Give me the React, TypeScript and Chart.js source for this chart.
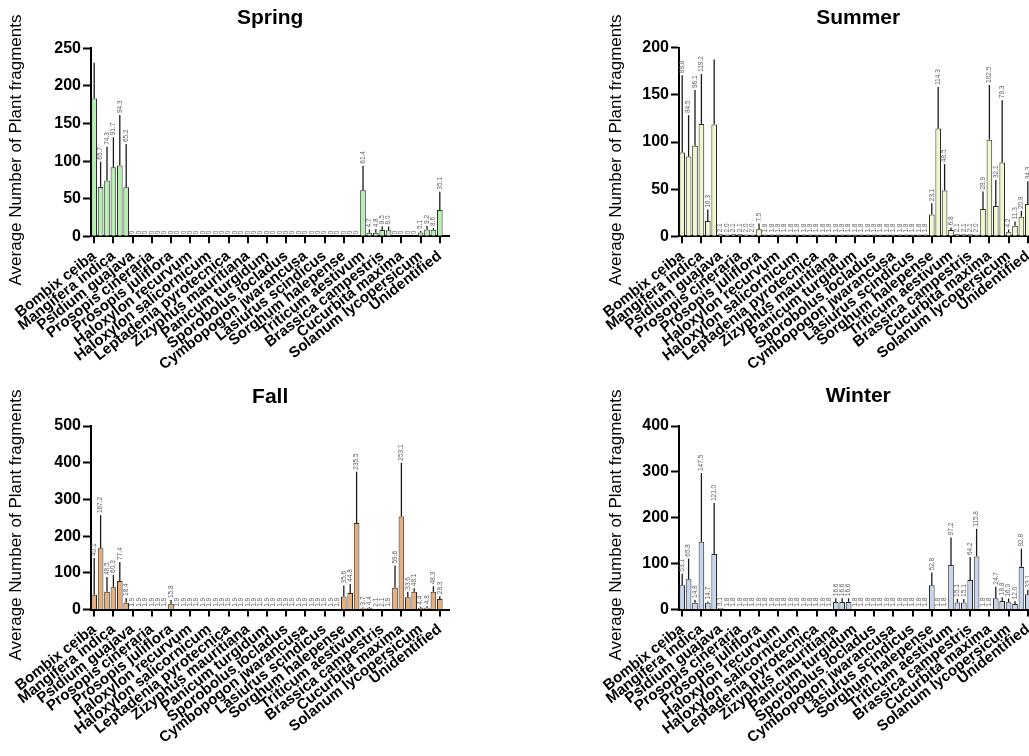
import React, { useEffect, useRef } from "react";
import { Chart, registerables } from "chart.js";
Chart.register(...registerables);

const FONT = '"Liberation Sans", Arial, Helvetica, sans-serif';

const species = [
  "Bombix ceiba", "Mangifera indica", "Psidium guajava", "Prosopis cineraria",
  "Prosopis juliflora", "Haloxylon recurvum", "Haloxylon salicornicum",
  "Leptadenia pyrotecnica", "Zizyphus mauritiana", "Panicum turgidum",
  "Sporobolus iocladus", "Cymbopogon jwarancusa", "Lasiurus scindicus",
  "Sorghum halepense", "Triticum aestivum", "Brassica campestris",
  "Cucurbita maxima", "Solanum lycopersicum", "Unidentified",
];

const yAxisTitle = "Average Number of Plant fragments";

// 56 bar slots: every third slot carries a species name
const slotLabels: string[] = [];
for (let i = 0; i < 56; i++) slotLabels.push(i % 3 === 0 && i / 3 < species.length ? species[i / 3] : "");

const springValues = [
  183.2, 65.7, 74.3, 91.7, 94.3, 65.2,
  0, 0, 0, 0, 0, 0, 0, 0, 0, 0, 0, 0,
  0, 0, 0, 0, 0, 0, 0, 0, 0, 0, 0, 0,
  0, 0, 0, 0, 0, 0, 0, 0, 0, 0, 0, 0,
  61.4, 4.7, 4.8, 8.5, 8.0, 0, 0, 0, 0, 5.1, 9.2, 8.6, 35.1,
];
const springErrors = [
  47.5, 33.5, 44.7, 40, 67, 57.5,
  0, 0, 0, 0, 0, 0, 0, 0, 0, 0, 0, 0,
  0, 0, 0, 0, 0, 0, 0, 0, 0, 0, 0, 0,
  0, 0, 0, 0, 0, 0, 0, 0, 0, 0, 0, 0,
  32.5, 4.5, 4.5, 5, 5, 0, 0, 0, 0, 2, 4.5, 2.5, 24.2,
];

const summerValues = [
  88.8, 84.5, 96.1, 119.2, 16.3, 118.5,
  2.1, 2.0, 2.1, 2.1, 2.0, 2.0, 7.5, 1.8, 1.8,
  1.8, 1.8, 1.8, 1.8, 1.8, 1.8, 1.8, 1.8, 1.8, 1.8, 1.8, 1.8,
  1.8, 1.8, 1.8, 1.8, 1.8, 1.8, 1.8, 1.8, 1.8, 1.8, 1.8, 1.8,
  23.1, 114.3, 48.5, 6.8, 2.1, 2.1, 2.1, 2.0, 28.9,
  102.5, 32.1, 78.3, 4.2, 11.3, 20.8, 34.3,
];
const summerErrors = [
  82, 44, 59, 53, 12, 69,
  0, 0, 0, 0, 0, 0, 6, 0, 0,
  0, 0, 0, 0, 0, 0, 0, 0, 0, 0, 0, 0,
  0, 0, 0, 0, 0, 0, 0, 0, 0, 0, 0, 0,
  12, 44, 28, 2.5, 0, 0, 0, 0, 18.5,
  58, 27.5, 66, 3, 4.5, 6, 24,
];

const fallValues = [
  40.1, 167.2, 48.5, 60.3, 77.4, 18.4,
  1.9, 1.9, 1.9, 1.9, 1.9, 1.9, 15.8, 1.9, 1.9,
  1.9, 1.9, 1.9, 1.9, 1.9, 1.9, 1.9, 1.9, 1.9, 1.9, 1.9, 1.9,
  1.9, 1.9, 1.9, 1.9, 1.9, 1.9, 1.9, 1.9, 1.9, 1.9, 1.9, 1.9,
  35.6, 44.8, 235.5, 3.7, 4.4, 2.1, 2.1, 1.9, 59.6,
  253.1, 33.6, 48.1, 4.4, 4.8, 48.3, 28.3,
];
const fallErrors = [
  100, 90, 40, 34, 52, 13,
  0, 0, 0, 0, 0, 0, 10, 0, 0,
  0, 0, 0, 0, 0, 0, 0, 0, 0, 0, 0, 0,
  0, 0, 0, 0, 0, 0, 0, 0, 0, 0, 0, 0,
  30, 25, 140, 2, 2, 0, 0, 0, 60,
  147, 15, 10, 3, 4, 15, 8,
];

const winterValues = [
  53.1, 65.8, 14.8, 147.5, 14.7, 121.0,
  3.1, 1.8, 1.8, 1.8, 1.8, 1.8, 1.8, 1.8, 1.8,
  1.8, 1.8, 1.8, 1.8, 1.8, 1.8, 1.8, 1.8, 1.8, 16.6, 16.6, 16.6,
  1.8, 1.8, 1.8, 1.8, 1.8, 1.8, 1.8, 1.8, 1.8, 1.8, 1.8, 1.8,
  52.8, 1.8, 1.8, 97.2, 15.1, 15.1, 64.2, 115.8, 1.8,
  1.8, 24.7, 18.8, 16.0, 12.0, 92.8, 33.1,
];
const winterErrors = [
  25, 45, 6, 150, 3, 111,
  0, 0, 0, 0, 0, 0, 0, 0, 0,
  0, 0, 0, 0, 0, 0, 0, 0, 0, 8, 8, 8,
  0, 0, 0, 0, 0, 0, 0, 0, 0, 0, 0, 0,
  28, 0, 0, 60, 8, 8, 50, 60, 0,
  0, 25, 8, 8, 6, 40, 10,
];

const errorBarPlugin = {
  id: "errbars",
  afterDatasetsDraw(chart: any) {
    const { ctx, chartArea } = chart;
    const ds = chart.data.datasets[0];
    const errs: number[] = ds.errors;
    const meta = chart.getDatasetMeta(0);
    const y = chart.scales.y;
    ctx.save();
    ctx.font = `6.5px ${FONT}`;
    meta.data.forEach((bar: any, i: number) => {
      const v = ds.data[i];
      if (v == null) return;
      const e = errs[i] || 0;
      const x = bar.x;
      const yTop = y.getPixelForValue(v + e);
      if (e > 0) {
        ctx.beginPath();
        ctx.moveTo(x, bar.y);
        ctx.lineTo(x, yTop);
        ctx.strokeStyle = "#1a1a1a";
        ctx.lineWidth = 1.3;
        ctx.stroke();
      }
      const text = v === 0 ? "0" : v.toFixed(1);
      const w = ctx.measureText(text).width;
      const start = Math.min(yTop, bar.y) - 2;
      if (start - w < chartArea.top) return;
      ctx.save();
      ctx.translate(x, start);
      ctx.rotate(-Math.PI / 2);
      ctx.fillStyle = "#5e5e5e";
      ctx.textAlign = "left";
      ctx.textBaseline = "middle";
      ctx.fillText(text, 0, 0);
      ctx.restore();
    });
    ctx.restore();
  },
};

const titlePlugin = {
  id: "paneltitle",
  afterDraw(chart: any, _args: any, opts: any) {
    const { ctx, chartArea } = chart;
    ctx.save();
    ctx.font = `bold 21px ${FONT}`;
    ctx.fillStyle = "#000";
    ctx.textAlign = "center";
    ctx.textBaseline = "middle";
    ctx.fillText(opts.text, (chartArea.left + chartArea.right) / 2, opts.y);
    ctx.font = `17px ${FONT}`;
    ctx.translate(opts.yTitleX, opts.yTitleY);
    ctx.rotate(-Math.PI / 2);
    ctx.fillText(yAxisTitle, 0, 0);
    ctx.restore();
  },
};

type PanelProps = {
  title: string; titleY: number; yTitleX: number; yTitleY: number;
  left: number; top: number; width: number; height: number;
  padLeft: number; yWidth: number; chartTop: number; chartBottom: number; right: number;
  max: number; step: number;
  values: number[]; errors: number[]; color: string; border: string;
};

function Panel(p: PanelProps) {
  const ref = useRef<HTMLCanvasElement>(null);
  useEffect(() => {
    const chart = new Chart(ref.current as HTMLCanvasElement, {
      type: "bar",
      data: {
        labels: slotLabels,
        datasets: [
          {
            data: [...p.values, null],
            errors: p.errors,
            backgroundColor: p.color,
            borderColor: p.border,
            borderWidth: 1,
            barPercentage: 0.88,
            categoryPercentage: 1,
          } as any,
        ],
      },
      options: {
        animation: false,
        responsive: false,
        devicePixelRatio: 1,
        layout: { padding: { left: p.padLeft, top: p.chartTop, right: p.width - p.right, bottom: 0 } },
        plugins: {
          legend: { display: false },
          tooltip: { enabled: false },
          paneltitle: { text: p.title, y: p.titleY, yTitleX: p.yTitleX, yTitleY: p.yTitleY },
        } as any,
        scales: {
          x: {
            offset: true,
            afterFit: (s: any) => { s.height = p.height - p.chartBottom; },
            grid: {
              display: true,
              drawOnChartArea: false,
              drawTicks: true,
              offset: false,
              tickLength: 7,
              tickWidth: 2,
              lineWidth: 2,
              color: (c: any) => (slotLabels[c.index] ? "#000" : "rgba(0,0,0,0)"),
              tickColor: (c: any) => (slotLabels[c.index] ? "#000" : "rgba(0,0,0,0)"),
            },
            border: { display: true, color: "#000", width: 2 },
            ticks: {
              autoSkip: false,
              minRotation: 38,
              maxRotation: 38,
              padding: 4,
              color: "#000",
              font: { family: FONT, size: 15, weight: "bold" },
            },
          },
          y: {
            min: 0,
            max: p.max,
            afterFit: (s: any) => { s.width = p.yWidth; },
            grid: {
              display: true,
              drawOnChartArea: false,
              drawTicks: true,
              tickLength: 8,
              tickWidth: 2,
              color: "#000",
              tickColor: "#000",
            },
            border: { display: true, color: "#000", width: 2 },
            ticks: {
              stepSize: p.step,
              padding: 2,
              color: "#000",
              font: { family: FONT, size: 16, weight: "bold" },
            },
            title: { display: false },
          },
        },
      } as any,
      plugins: [errorBarPlugin, titlePlugin],
    });
    return () => chart.destroy();
  }, []);
  return (
    <canvas
      ref={ref}
      width={p.width}
      height={p.height}
      style={{ position: "absolute", left: p.left, top: p.top, width: p.width, height: p.height }}
    />
  );
}

export default function App() {
  return (
    <div style={{ position: "fixed", left: 0, top: 0, width: 1029, height: 756, overflow: "hidden", background: "#fff" }}>
      <Panel title="Spring" titleY={18} yTitleX={16} yTitleY={150} left={0} top={0} width={514} height={400}
        padLeft={0} yWidth={91} chartTop={48.3} chartBottom={236.3} right={449.4}
        max={250} step={50} values={springValues} errors={springErrors} color="#b6efb0" border="#2a2a2a" />
      <Panel title="Summer" titleY={18} yTitleX={102} yTitleY={150} left={514} top={0} width={540} height={400}
        padLeft={85} yWidth={80} chartTop={47.7} chartBottom={236.3} right={523.4}
        max={200} step={50} values={summerValues} errors={summerErrors} color="#f1f6cd" border="#2a2a2a" />
      <Panel title="Fall" titleY={19} yTitleX={16} yTitleY={147} left={0} top={378} width={514} height={378}
        padLeft={0} yWidth={91} chartTop={48} chartBottom={231.5} right={449.4}
        max={500} step={100} values={fallValues} errors={fallErrors} color="#e6ae7a" border="#2a2a2a" />
      <Panel title="Winter" titleY={18} yTitleX={102} yTitleY={147} left={514} top={378} width={540} height={378}
        padLeft={85} yWidth={80} chartTop={48} chartBottom={231.5} right={523.4}
        max={400} step={100} values={winterValues} errors={winterErrors} color="#c6d6ee" border="#2a2a2a" />
    </div>
  );
}
